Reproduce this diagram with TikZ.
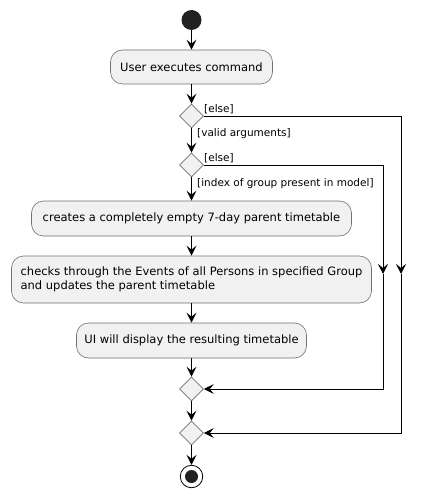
\documentclass[tikz,border=0pt]{standalone}
\usepackage{fontspec}
\setmainfont{DejaVu Sans}
\usetikzlibrary{arrows.meta,shapes.geometric}
\definecolor{boxfill}{HTML}{F1F1F1}
\definecolor{boxline}{HTML}{707070}
\definecolor{dotfill}{HTML}{222222}
\begin{document}
\begin{tikzpicture}[x=1pt,y=-1pt,
  actbox/.style={draw=boxline,line width=0.6pt,fill=boxfill,rounded corners=12pt,inner sep=0pt,font=\fontsize{11.5}{14}\selectfont},
  decis/.style={diamond,draw=boxline,line width=0.6pt,fill=boxfill,minimum width=24pt,minimum height=24pt,inner sep=0pt},
  guard/.style={font=\fontsize{10.5}{12}\selectfont,inner sep=0pt},
  flow/.style={line width=0.9pt,-{Stealth[length=10pt,width=10pt,inset=4pt]}},
  plain/.style={line width=0.9pt}]
\useasboundingbox (0,0) rectangle (425,497);
\node[circle,fill=dotfill,minimum size=20pt,inner sep=0pt] (start) at (191.5,20) {};
\node[actbox,minimum width=162pt,minimum height=34pt] (b1) at (191.5,67) {User executes command};
\node[decis] (d1) at (191.5,116) {};
\node[decis] (d2) at (191.5,165) {};
\node[actbox,minimum width=320pt,minimum height=35pt] (b2) at (191.5,218.5) {creates a completely empty 7-day parent timetable};
\node[actbox,minimum width=360pt,minimum height=47pt,align=left] (b3) at (191.5,279.5) {checks through the Events of all Persons in specified Group\\and updates the parent timetable};
\node[actbox,minimum width=230pt,minimum height=35pt] (b4) at (191.5,340.5) {UI will display the resulting timetable};
\node[decis] (m1) at (191.5,389) {};
\node[decis] (m2) at (191.5,433) {};
\node[circle,draw=black,line width=0.8pt,fill=white,minimum size=22.5pt,inner sep=0pt] (stop) at (191.5,476.5) {};
\node[circle,fill=dotfill,minimum size=13pt,inner sep=0pt] (stopin) at (191.5,476.5) {};
\coordinate (r1) at (401,116);
\coordinate (r1m) at (401,274);
\coordinate (r1b) at (401,433);
\coordinate (r2) at (383,165);
\coordinate (r2m) at (383,274);
\coordinate (r2b) at (383,389);
\draw[flow] (start) -- (b1);
\draw[flow] (b1) -- (d1);
\draw[flow] (d1) -- (d2);
\draw[flow] (d2) -- (b2);
\draw[flow] (b2) -- (b3);
\draw[flow] (b3) -- (b4);
\draw[flow] (b4) -- (m1);
\draw[flow] (m1) -- (m2);
\draw[flow] (m2) -- (stop);
\draw[flow] (d1.east) -- (r1) -- (r1m);
\draw[flow] (r1m) -- (r1b) -- (m2.east);
\draw[flow] (d2.east) -- (r2) -- (r2m);
\draw[flow] (r2m) -- (r2b) -- (m1.east);
\node[guard,anchor=west] (g1) at (204,109.5) {[else]};
\node[guard,anchor=west] (g2) at (197,134) {[valid arguments]};
\node[guard,anchor=west] (g3) at (204,158.5) {[else]};
\node[guard,anchor=west] (g4) at (197,184) {[index of group present in model]};
\end{tikzpicture}
\end{document}
